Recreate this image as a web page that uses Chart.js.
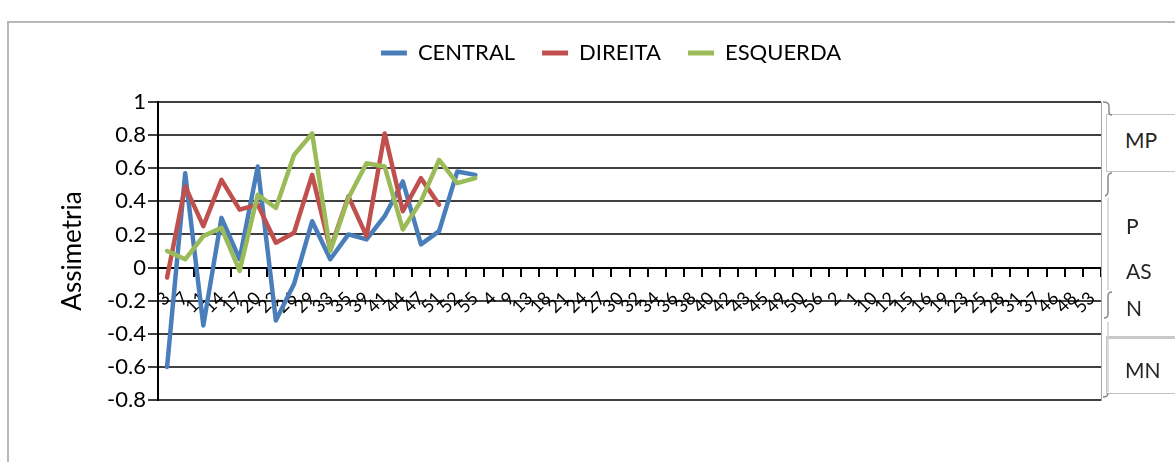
<!DOCTYPE html>
<html><head><meta charset="utf-8">
<script src="https://cdn.jsdelivr.net/npm/chart.js@4.4.1/dist/chart.umd.min.js"></script>
<style>
html,body{margin:0;padding:0;background:#fff;}
body{width:1175px;height:462px;overflow:hidden;position:relative;font-family:Lato,"Liberation Sans",sans-serif;}
#frame{position:absolute;left:7px;top:21px;width:1400px;height:600px;border-left:2px solid #b8b8b8;border-top:2px solid #b8b8b8;}
#wrap{position:absolute;left:0;top:15px;width:1222px;height:447px;}
.box{position:absolute;background:#fff;border:1px solid #c4c4c4;box-sizing:border-box;}
.lbl{position:absolute;font-size:21px;color:#262626;line-height:24px;white-space:nowrap;}
</style></head><body>
<div id="frame"></div>
<div id="wrap"><canvas id="c" width="1222" height="447"></canvas></div>
<div class="box" style="left:1106px;top:114px;width:120px;height:58px;"></div>
<div class="box" style="left:1106px;top:336px;width:120px;height:58px;border-top:3px solid #c8c8c8;"></div>
<div class="lbl" style="left:1125px;top:128px;">MP</div>
<div class="lbl" style="left:1126px;top:214px;">P</div>
<div class="lbl" style="left:1126px;top:259px;">AS</div>
<div class="lbl" style="left:1126px;top:296px;">N</div>
<div class="lbl" style="left:1125px;top:358px;">MN</div>
<svg style="position:absolute;left:0;top:0" width="1175" height="462">
  <g fill="none" stroke="#8a8a8a" stroke-width="1.5">
    <path d="M1103,102 q6,0 6,4 v6 q0,3 3,3"/>
    <path d="M1112,173 q-4,0 -4,4 v14 q0,4 -3,5"/>
    <path d="M1108,198 V290" stroke="#d0d0d0"/>
    <path d="M1112,292 q-4,0 -4,4 v18 q0,4 -4,4"/>
    <path d="M1108,322 V392" stroke="#d0d0d0"/>
    <path d="M1103,397 q5,0 5,-4"/>
  </g>
</svg>
<script>
const categories = ['3','7','11','14','17','20','22','26','29','33','35','39','41','44','47','51','52','55',
  '4','9','13','18','21','24','27','30','32','34','36','38','40','42','43','45','49','50','56',
  '2','1','10','12','15','16','19','23','25','28','31','37','46','48','53'];
const central  = [-0.60, 0.57, -0.35, 0.30, 0.05, 0.61, -0.32, -0.10, 0.28, 0.05, 0.20, 0.17, 0.31, 0.52, 0.14, 0.22, 0.58, 0.56];
const direita  = [-0.06, 0.49, 0.25, 0.53, 0.35, 0.38, 0.15, 0.21, 0.56, 0.11, 0.43, 0.19, 0.81, 0.34, 0.54, 0.38];
const esquerda = [0.10, 0.05, 0.19, 0.24, -0.02, 0.44, 0.36, 0.68, 0.81, 0.10, 0.42, 0.63, 0.61, 0.23, 0.40, 0.65, 0.51, 0.54];
const seriesNames = ['CENTRAL', 'DIREITA', 'ESQUERDA'];
const seriesColors = ['#4a7ebb', '#c0504d', '#9bbb59'];
const yMin = -0.8, yMax = 1, yStep = 0.2;

function pad(arr) { return categories.map((_, i) => (i < arr.length ? arr[i] : null)); }

Chart.defaults.font.family = 'Lato, "Liberation Sans", sans-serif';
Chart.defaults.color = '#000';

const mk = (idx, data, order) => ({
  label: seriesNames[idx], data: pad(data),
  borderColor: seriesColors[idx], backgroundColor: seriesColors[idx],
  borderWidth: 4.5, pointRadius: 0, pointHoverRadius: 0, tension: 0,
  borderJoinStyle: 'round', borderCapStyle: 'round', spanGaps: false, order: order
});

new Chart(document.getElementById('c'), {
  type: 'line',
  data: {
    labels: categories,
    datasets: [mk(0, central, 2), mk(1, direita, 1), mk(2, esquerda, 0)]
  },
  options: {
    responsive: false, animation: false,
    layout: { padding: { left: 0, right: 0, top: 0, bottom: 62 } },
    plugins: {
      tooltip: { enabled: false },
      legend: {
        position: 'top',
        labels: {
          boxWidth: 26, boxHeight: 5, padding: 27,
          font: { size: 22 }, color: '#000',
          sort: (a, b) => a.datasetIndex - b.datasetIndex,
          generateLabels(chart) {
            const items = Chart.defaults.plugins.legend.labels.generateLabels(chart);
            items.forEach(it => { it.fillStyle = it.strokeStyle; it.lineWidth = 0; });
            return items;
          }
        }
      }
    },
    scales: {
      x: {
        type: 'category', position: { y: 0 }, offset: true,
        grid: { display: true, drawOnChartArea: false, drawTicks: true, tickLength: 8, offset: true, color: '#000', lineWidth: 2 },
        border: { display: true, color: '#000', width: 2 },
        ticks: { autoSkip: false, minRotation: 45, maxRotation: 45, padding: 12, font: { size: 18 }, color: '#000' },
        afterFit(s) { s.height = 0; }
      },
      xTop: {
        type: 'linear', position: 'top', display: true,
        grid: { display: false }, border: { display: false }, ticks: { display: false },
        afterFit(s) { s.height = 28; }
      },
      y: {
        type: 'linear', position: 'left', min: yMin, max: yMax,
        ticks: { stepSize: yStep, padding: 2, font: { size: 22 }, color: '#000',
          callback: v => String(Math.round(v * 10) / 10) },
        grid: { color: '#404040', lineWidth: 2, tickLength: 10, drawTicks: true },
        border: { display: true, color: '#000', width: 2 },
        title: { display: true, text: 'Assimetria', font: { size: 26 }, color: '#000', padding: { top: 57, bottom: 0 } },
        afterFit(s) { s.width = 158; }
      },
      yRight: {
        type: 'linear', position: 'right', display: true,
        grid: { display: false }, ticks: { display: false },
        border: { display: true, color: '#a6a6a6', width: 1 },
        afterFit(s) { s.width = 121; }
      }
    }
  }
});
</script>
</body></html>
